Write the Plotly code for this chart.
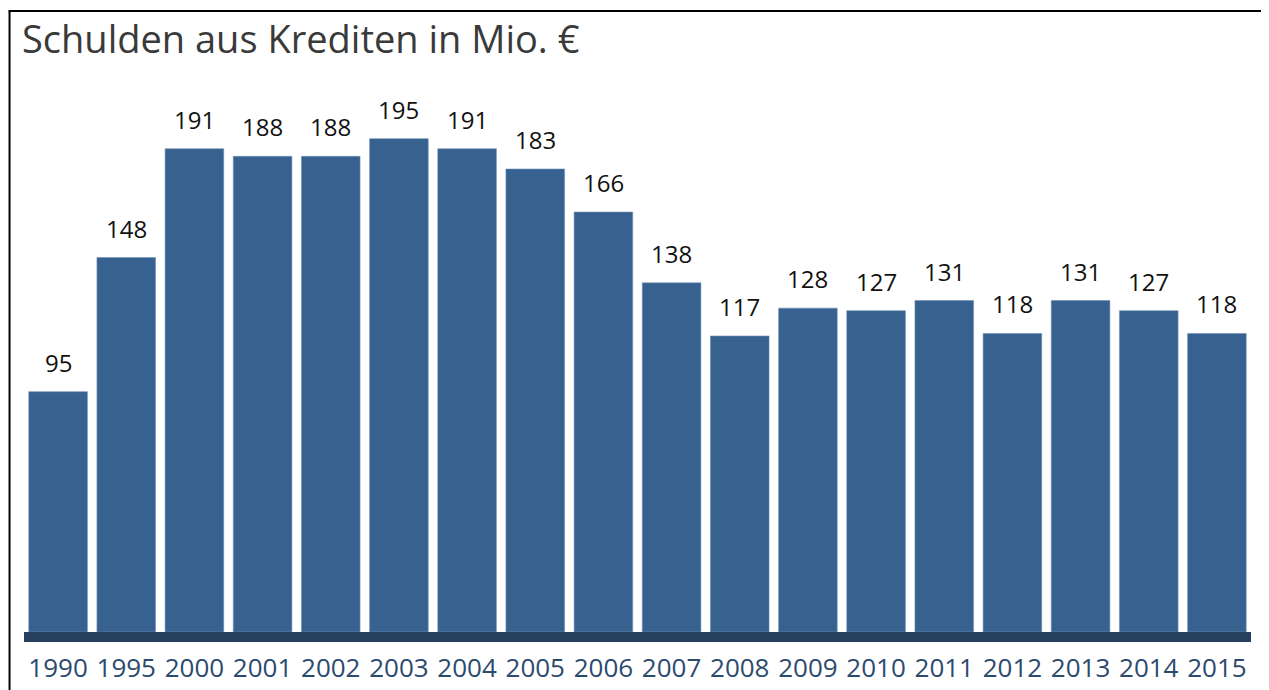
import plotly.graph_objects as go

years = ["1990", "1995", "2000", "2001", "2002", "2003", "2004", "2005", "2006",
         "2007", "2008", "2009", "2010", "2011", "2012", "2013", "2014", "2015"]
debt = [95, 148, 191, 188, 188, 195, 191, 183, 166, 138, 117, 128, 127, 131, 118, 131, 127, 118]
title_text = "Schulden aus Krediten in Mio. €"

# page has an 8px body margin; work in page pixels and convert
OFF = 8
W, H = 1269 - OFF, 690 - OFF
ML, MR, MB = 24.45 - OFF, 18.4, 58
MT = 72

fig = go.Figure()
fig.add_trace(go.Bar(
    x=years, y=debt,
    marker=dict(color="#37618f", line=dict(color="#6f8fb5", width=0.6)),
    hoverinfo="x+y",
))

for i, yv in enumerate(debt):
    fig.add_annotation(x=i, y=yv, text=str(yv), showarrow=False,
                       xref="x", yref="y",
                       yanchor="bottom", yshift=11,
                       font=dict(family="Open Sans", size=24, color="#111111"))

plot_w = W - ML - MR
plot_h = H - MT - MB

def px_x(p):
    return (p - OFF - ML) / plot_w

def px_y(p):
    return (H - MB - (p - OFF)) / plot_h

# outer frame
fig.add_shape(type="line", xref="paper", yref="paper",
              x0=px_x(10), x1=px_x(10), y0=px_y(11), y1=px_y(700),
              line=dict(color="black", width=2))
fig.add_shape(type="line", xref="paper", yref="paper",
              x0=px_x(9), x1=px_x(1264), y0=px_y(11), y1=px_y(11),
              line=dict(color="black", width=2))
fig.add_shape(type="line", xref="paper", yref="paper",
              x0=px_x(1263), x1=px_x(1263), y0=px_y(10), y1=px_y(700),
              line=dict(color="black", width=3))

fig.update_layout(
    template="none",
    width=W, height=H,
    margin=dict(l=ML, r=MR, t=MT, b=MB, pad=0, autoexpand=False),
    paper_bgcolor="white", plot_bgcolor="white",
    bargap=0.14,
    showlegend=False,
    title=dict(text=title_text, x=(22 - OFF) / W, xanchor="left", y=1 - 18 / H, yanchor="top",
               font=dict(family="Open Sans", size=38, color="#3a3a3a")),
    xaxis=dict(type="category", range=[-0.5, len(years) - 0.5], automargin=False,
               showline=True, linewidth=10, linecolor="#263f5f",
               ticks="outside", ticklen=4, tickcolor="rgba(0,0,0,0)",
               tickfont=dict(family="Open Sans", size=26, color="#2c4a6e"),
               showgrid=False, zeroline=False, fixedrange=True),
    yaxis=dict(range=[0, plot_h / 2.53], visible=False, showgrid=False, automargin=False,
               zeroline=False, fixedrange=True),
)

fig.write_html("out.html")
